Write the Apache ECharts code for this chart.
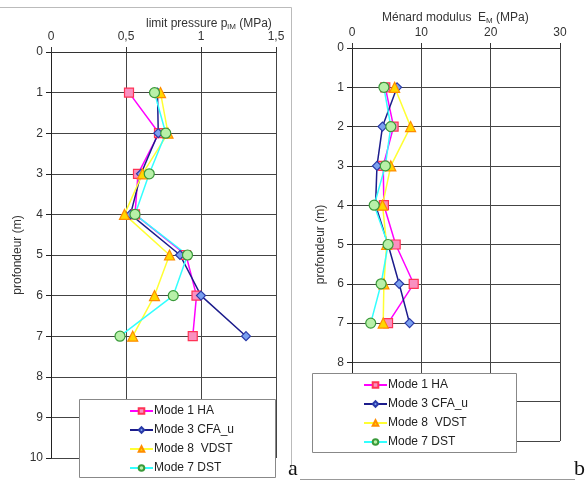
<!DOCTYPE html>
<html><head><meta charset="utf-8">
<script src="https://cdn.jsdelivr.net/npm/echarts@6/dist/echarts.min.js"></script>
<style>html,body{margin:0;padding:0;background:#fff}#c{width:587px;height:483px}</style>
</head><body><div id="c"></div>
<script>
var depths = [1, 2, 3, 4, 5, 6, 7];
var seriesNames = ['Mode 1 HA', 'Mode 3 CFA_u', 'Mode 8  VDST', 'Mode 7 DST'];
// limit pressure pLM (MPa)
var pl_HA   = [0.52, 0.72, 0.58, 0.56, 0.90, 0.97, 0.945];
var pl_CFA  = [0.71, 0.715, 0.60, 0.53, 0.86, 1.00, 1.30];
var pl_VDST = [0.73, 0.78, 0.61, 0.49, 0.79, 0.69, 0.545];
var pl_DST  = [0.69, 0.765, 0.655, 0.56, 0.91, 0.815, 0.46];
// Ménard modulus EM (MPa)
var em_HA   = [4.8, 6.0, 4.5, 4.6, 6.3, 8.9, 5.2];
var em_CFA  = [6.5, 4.4, 3.6, 3.4, 5.2, 6.8, 8.3];
var em_VDST = [6.15, 8.45, 5.6, 4.4, 5.0, 4.6, 4.5];
var em_DST  = [4.6, 5.6, 4.8, 3.2, 5.2, 4.2, 2.7];
var depthTicks = [0,1,2,3,4,5,6,7,8,9,10];

var styles = [
  {line:'#FF00FF', fill:'#F990C0', border:'#FF3355', symbol:'rect', size:9},
  {line:'#1C1C8C', fill:'#7AA0F0', border:'#2A3AA8', symbol:'diamond', size:9},
  {line:'#FFFF33', fill:'#FFD700', border:'#FF8C00', symbol:'triangle', size:10},
  {line:'#33FFFF', fill:'#B8F0A8', border:'#3A9A3A', symbol:'circle', size:10}
];
function pairs(xs){ return xs.map(function(v,i){ return [v, depths[i]]; }); }
function mk(name, xs, idx, st){
  return {name:name, type:'line', xAxisIndex:idx, yAxisIndex:idx, data:pairs(xs),
    symbol:st.symbol, symbolSize:st.size,
    lineStyle:{color:st.line, width:1.5},
    itemStyle:{color:st.fill, borderColor:st.border, borderWidth:1.2},
    animation:false};
}
var left = [pl_HA, pl_CFA, pl_VDST, pl_DST];
var right = [em_HA, em_CFA, em_VDST, em_DST];
var series = [];
left.forEach(function(d,i){ series.push(mk(seriesNames[i], d, 0, styles[i])); });
right.forEach(function(d,i){ series.push(mk(seriesNames[i], d, 1, styles[i])); });

var font = 'Liberation Sans, Arial, sans-serif';
function xAx(idx, max, interval, margin){
  return {type:'value', gridIndex:idx, position:'top', min:0, max:max, interval:interval,
    axisLine:{show:true, lineStyle:{color:'#333', width:1}},
    axisTick:{show:true, length:5, lineStyle:{color:'#333'}},
    splitLine:{show:true, lineStyle:{color:'#444', width:1}},
    axisLabel:{fontFamily:font, fontSize:12, color:'#333', margin:margin,
      formatter:function(v){ return String(v).replace('.', ','); }}};
}
function yAx(idx, gap){
  return {type:'value', gridIndex:idx, inverse:true, min:0, max:10, interval:1,
    name:'profondeur (m)', nameLocation:'middle', nameGap:gap, nameRotate:90,
    nameTextStyle:{fontFamily:font, fontSize:12, color:'#333'},
    axisLine:{show:true, onZero:false, lineStyle:{color:'#222', width:1}},
    axisTick:{show:true, length:5, lineStyle:{color:'#222'}},
    splitLine:{show:true, lineStyle:{color:'#444', width:1}},
    axisLabel:{fontFamily:font, fontSize:12, color:'#333', margin:8,
      formatter:function(v){ return depthTicks.indexOf(v) >= 0 ? String(v) : ''; }}};
}
var legendCommon = {orient:'vertical', itemWidth:23, itemHeight:7, itemGap:7, z:200,
  textStyle:{fontFamily:font, fontSize:12, color:'#222', padding:[0,0,0,-4]},
  data:seriesNames, selectedMode:false};

var chart = echarts.init(document.getElementById('c'), null, {renderer:'canvas'});
chart.setOption({
  animation:false,
  backgroundColor:'#fff',
  title:[
    {text:'limit pressure p{s|lM} (MPa)', left:141, top:12,
     textStyle:{fontFamily:font, fontSize:12, fontWeight:'normal', color:'#333',
       rich:{s:{fontSize:8, verticalAlign:'bottom', padding:[6,0,0,0], fontFamily:font, color:'#333'}}}},
    {text:'Ménard modulus  E{s|M} (MPa)', left:377, top:6,
     textStyle:{fontFamily:font, fontSize:12, fontWeight:'normal', color:'#333',
       rich:{s:{fontSize:8, verticalAlign:'bottom', padding:[6,0,0,0], fontFamily:font, color:'#333'}}}}
  ],
  grid:[
    {left:51, top:52, width:225, height:406},
    {left:352, top:48, width:208, height:393}
  ],
  xAxis:[xAx(0, 1.5, 0.5, 9), xAx(1, 30, 10, 9)],
  yAxis:[yAx(0, 27), yAx(1, 25)],
  legend:[
    Object.assign({left:124, top:400}, legendCommon),
    Object.assign({left:358, top:374}, legendCommon)
  ],
  graphic:[
    {type:'line', shape:{x1:0, y1:7.5, x2:291.5, y2:7.5}, style:{stroke:'#bbb', lineWidth:1}, z:1},
    {type:'line', shape:{x1:291.5, y1:7.5, x2:291.5, y2:470}, style:{stroke:'#bbb', lineWidth:1}, z:1},
    {type:'line', shape:{x1:300, y1:479.5, x2:575, y2:479.5}, style:{stroke:'#999', lineWidth:1}, z:1},
    {type:'rect', shape:{x:79.5, y:399.5, width:196, height:78}, style:{fill:'#fff', stroke:'#888', lineWidth:1}, z:150},
    {type:'rect', shape:{x:312.5, y:373.5, width:204, height:79}, style:{fill:'#fff', stroke:'#888', lineWidth:1}, z:150},
    {type:'text', left:288, top:458, style:{text:'a', font:'22px Liberation Serif, serif', fill:'#111'}, z:1},
    {type:'text', left:574, top:458, style:{text:'b', font:'22px Liberation Serif, serif', fill:'#111'}, z:1}
  ],
  series:series
});
</script></body></html>
